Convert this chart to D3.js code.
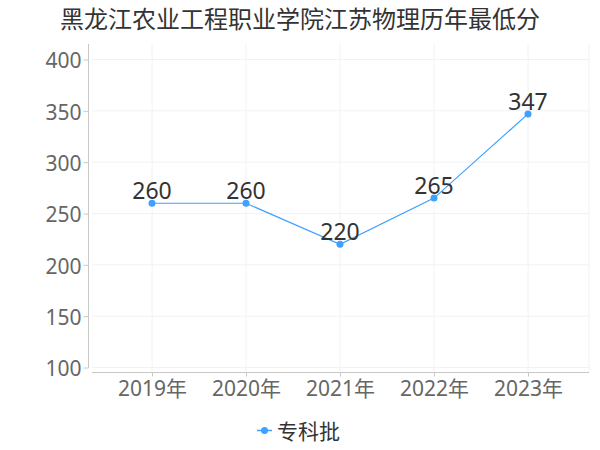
<!DOCTYPE html>
<html><head><meta charset="utf-8">
<script src="https://cdn.jsdelivr.net/npm/d3@7"></script>
<style>body{margin:0;background:#fff}svg{display:block}</style>
</head><body>
<svg id="c" width="600" height="450"></svg>
<script>
const title = "黑龙江农业工程职业学院江苏物理历年最低分";
const categories = ["2019年","2020年","2021年","2022年","2023年"];
const seriesName = "专科批";
const values = [260, 260, 220, 265, 347];
const yTicks = [100,150,200,250,300,350,400];

const svg = d3.select("#c");
const font = "'Noto Sans','Noto Sans CJK SC',sans-serif";
const color = "#3fa1ff";
const L = 92, R = 589, T = 44, B = 372;

const x = d3.scalePoint().domain(categories).range([152, 528]);
const y = d3.scaleLinear().domain([100, 400]).range([367.5, 59.5]);

svg.append("text").attr("x", 300).attr("y", 28).attr("text-anchor","middle")
  .attr("font-family", "'Noto Sans CJK SC',sans-serif").attr("font-size", 24).attr("fill","#333").text(title);

// grid
const g = svg.append("g");
g.selectAll("line.h").data(yTicks).join("line")
  .attr("x1", L).attr("x2", R).attr("y1", d=>y(d)).attr("y2", d=>y(d))
  .attr("stroke","#f2f2f2").attr("stroke-width",1);
g.selectAll("line.v").data(categories).join("line")
  .attr("x1", d=>x(d)).attr("x2", d=>x(d)).attr("y1", T).attr("y2", B)
  .attr("stroke","#f2f2f2").attr("stroke-width",1);
g.append("line").attr("x1",R).attr("x2",R).attr("y1",T).attr("y2",B).attr("stroke","#f2f2f2");

// y axis
const ya = svg.append("g").attr("transform","translate(88.5,0)")
  .call(d3.axisLeft(y).tickValues(yTicks).tickSize(5).tickPadding(2));
ya.select(".domain").attr("d", `M-0,${T}V${368}`).attr("stroke","#c8c8c8");
ya.selectAll(".tick line").attr("stroke","#c8c8c8");
ya.selectAll("text").attr("font-family", font).attr("font-size", 21).attr("fill","#666").attr("dy","0.4em");

// x axis
const xa = svg.append("g").attr("transform",`translate(0,${B+0.5})`)
  .call(d3.axisBottom(x).tickSize(4).tickPadding(6));
xa.select(".domain").attr("d", `M${L},0H${R}`).attr("stroke","#c8c8c8");
xa.selectAll(".tick line").attr("stroke","#c8c8c8");
xa.selectAll("text").attr("font-family", font).attr("font-size", 21).attr("fill","#666").attr("dy","0.62em");

// line
const data = categories.map((c,i)=>({c, v: values[i]}));
svg.append("path").datum(data)
  .attr("d", d3.line().x(d=>x(d.c)).y(d=>y(d.v)))
  .attr("fill","none").attr("stroke", color).attr("stroke-width",1.2);
svg.selectAll("circle.p").data(data).join("circle")
  .attr("cx", d=>x(d.c)).attr("cy", d=>y(d.v)).attr("r", 3.5).attr("fill", color);
svg.selectAll("text.lbl").data(data).join("text")
  .attr("x", d=>x(d.c)).attr("y", d=>y(d.v)-4).attr("text-anchor","middle")
  .attr("font-family", font).attr("font-size", 23).attr("fill","#333").text(d=>d.v);

// legend
const lg = svg.append("g");
lg.append("line").attr("x1",257).attr("x2",272).attr("y1",430.5).attr("y2",430.5).attr("stroke",color).attr("stroke-width",1.5);
lg.append("circle").attr("cx",264.5).attr("cy",430.5).attr("r",3.5).attr("fill",color);
lg.append("text").attr("x",277).attr("y",439).attr("font-family","'Noto Sans CJK SC',sans-serif").attr("font-size",21).attr("fill","#333").text(seriesName);
</script>
</body></html>
